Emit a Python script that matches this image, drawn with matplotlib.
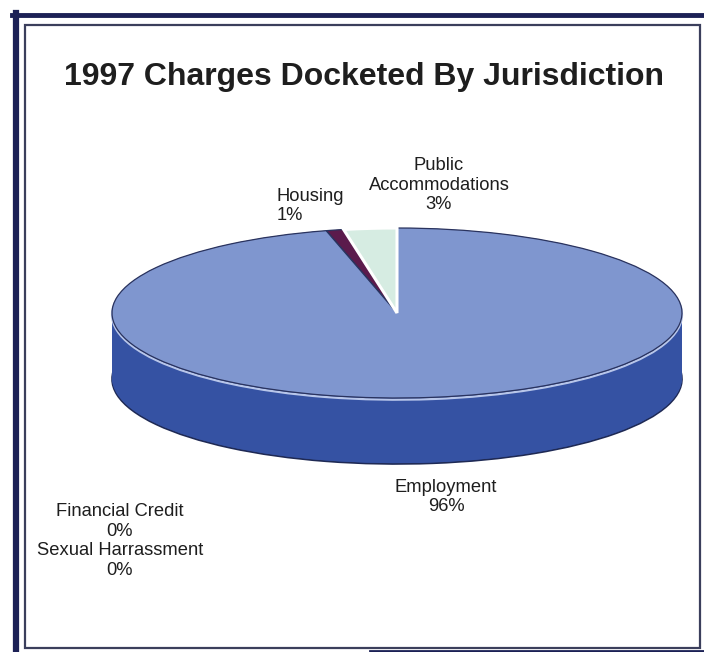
import matplotlib
matplotlib.use("Agg")
import matplotlib.pyplot as plt
from matplotlib.lines import Line2D
from matplotlib.patches import Rectangle
import numpy as np

plt.rcParams['font.family'] = ['Liberation Sans', 'DejaVu Sans']

# charges docketed in 1997, by jurisdiction (percent)
categories = ["Public Accommodations", "Housing", "Financial Credit",
              "Sexual Harrassment", "Employment"]
shares = [3, 1, 0, 0, 96]
top_colors = ["#d6ece2", "#5b1b4c", "#c9c9c9", "#bdbdbd", "#7f96cf"]
side_colors = ["#9fb7ab", "#3e0e33", "#999999", "#8a8a8a", "#3552a3"]

W, H = 704, 652
fig = plt.figure(figsize=(W / 100, H / 100), dpi=100)
fig.patch.set_facecolor("white")


def fx(x):
    return x / W


def fy(y):
    return 1 - y / H


# pie axes: unit radius -> 285 px across, 85 px tall (flattened disc)
cx, cy, rx, ry, depth_px = 397, 313, 285, 85, 66
ax = fig.add_axes([0, 0, 1, 1])
ax.set_axis_off()
depth = depth_px / ry

# side of the disc: stacked layers from the bottom face up to the top face
for i, d in enumerate(np.linspace(depth, 0, 70)):
    edge = "#1f2a55" if i == 0 else "none"
    wedges, _ = ax.pie(shares, colors=side_colors, startangle=90,
                       counterclock=True, center=(0, -d), radius=1,
                       wedgeprops=dict(edgecolor=edge, linewidth=1.2),
                       frame=True)

# light rim along the front edge of the top face
rim, _ = ax.pie(shares, colors=["none"] * len(shares), startangle=90,
                counterclock=True, center=(0, -0.02), radius=1,
                wedgeprops=dict(edgecolor="#b8c6ea", linewidth=1.6),
                frame=True)

# top face
wedges, _ = ax.pie(shares, colors=top_colors, startangle=90,
                   counterclock=True, center=(0, 0), radius=1,
                   wedgeprops=dict(edgecolor="#2a335e", linewidth=0.9),
                   frame=True)
wedges[0].set_edgecolor("white")
wedges[0].set_linewidth(2.2)
wedges[0].set_zorder(wedges[0].get_zorder() + 1)

ax.set_aspect("auto")
ax.set_xlim(-cx / rx, (W - cx) / rx)
ax.set_ylim(-(H - cy) / ry, cy / ry)
ax.set_xticks([])
ax.set_yticks([])
for s in ax.spines.values():
    s.set_visible(False)

# frame around the chart
navy = "#1c2156"
fig.add_artist(Line2D([fx(16), fx(16)], [fy(13), fy(652)], color=navy, lw=4.5))
fig.add_artist(Line2D([fx(12), fx(704)], [fy(15), fy(15)], color=navy, lw=3.5))
fig.add_artist(Line2D([fx(370), fx(704)], [fy(651), fy(651)], color=navy, lw=2))
fig.add_artist(Rectangle((fx(25), fy(648)), fx(700) - fx(25), fy(25) - fy(648),
                         fill=False, edgecolor="#3b3f5c", lw=1.6))

txt = "#1e1e1e"
fs = 13.2
fig.text(fx(364), fy(77), "1997 Charges Docketed By Jurisdiction",
         ha="center", va="center", fontsize=23, fontweight="bold", color=txt)

pa = shares[categories.index("Public Accommodations")]
fig.text(fx(439), fy(185), f"Public\nAccommodations\n{pa}%", ha="center",
         va="center", multialignment="center", fontsize=fs, color=txt,
         linespacing=1.2)

ho = shares[categories.index("Housing")]
fig.text(fx(277), fy(206), f"Housing\n{ho}%", ha="left", va="center",
         multialignment="left", fontsize=fs, color=txt, linespacing=1.2)

em = shares[categories.index("Employment")]
fig.text(fx(446), fy(497), f"Employment\n{em}%", ha="center", va="center",
         multialignment="center", fontsize=fs, color=txt, linespacing=1.2)

fc = shares[categories.index("Financial Credit")]
sh = shares[categories.index("Sexual Harrassment")]
fig.text(fx(120), fy(541),
         f"Financial Credit\n{fc}%\nSexual Harrassment\n{sh}%",
         ha="center", va="center", multialignment="center", fontsize=fs,
         color=txt, linespacing=1.2)

fig.savefig("out.png", dpi=100, facecolor="white")
